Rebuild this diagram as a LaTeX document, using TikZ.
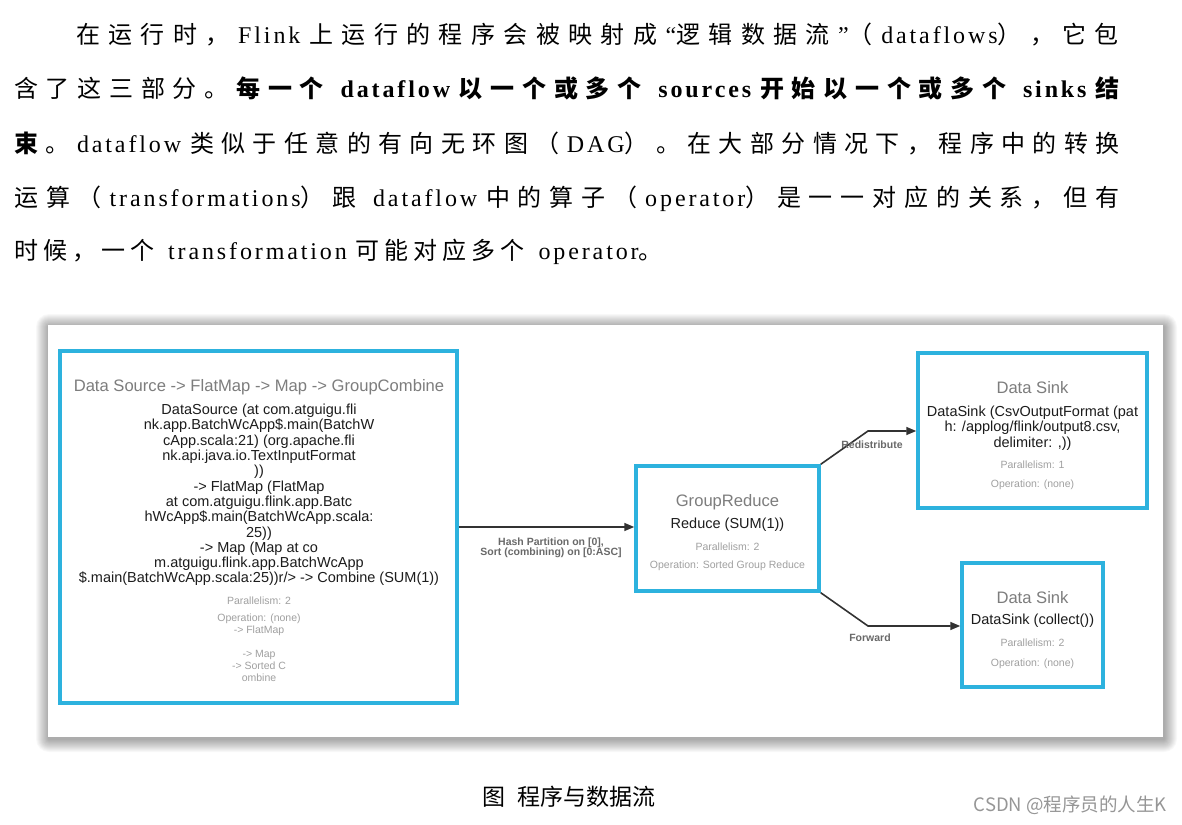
\documentclass[tikz,border=0pt]{standalone}
\usepackage{fontspec}
\setmainfont{Liberation Sans}
\newfontfamily\serifls[LetterSpace=12]{Liberation Serif}
\newfontfamily\cjk{Noto Sans CJK SC}
\newfontfamily\cjkplain{Noto Sans CJK SC}
\usetikzlibrary{arrows.meta}
\newcommand\zhglue{\hskip 5pt plus 1fil}
\ExplSyntaxOn
\NewDocumentCommand\zh{m}{\group_begin: \cjk \tl_map_inline:nn {#1}{##1\zhglue}\group_end:}
\ExplSyntaxOff
\definecolor{boxblue}{RGB}{45,178,222}
\definecolor{titlegray}{RGB}{125,125,125}
\definecolor{bodyink}{RGB}{28,28,28}
\definecolor{smallgray}{RGB}{160,160,160}
\definecolor{labelgray}{RGB}{105,105,105}
\definecolor{edgegray}{RGB}{50,50,50}
\definecolor{markgray}{RGB}{150,150,150}
\tikzset{
  para/.style={anchor=base west, inner sep=0pt, font=\serifls\fontsize{24pt}{24pt}\selectfont},
  opbox/.style={draw=boxblue, line width=3.5pt, fill=white, inner sep=0pt},
  optitle/.style={text=titlegray, inner sep=0pt, font=\fontsize{16.6pt}{18pt}\selectfont},
  opbody/.style={text=bodyink, inner sep=0pt, align=center, font=\fontsize{14.5pt}{15.3pt}\selectfont},
  opsmall/.style={text=smallgray, inner sep=0pt, align=center, font=\fontsize{10.5pt}{12pt}\selectfont},
  elabel/.style={text=labelgray, inner sep=0pt, align=center, font=\bfseries\fontsize{10.5pt}{12pt}\selectfont},
  edge/.style={draw=edgegray, line width=1.6pt, -{Triangle[length=10pt,width=8pt]}},
  shadowlayer/.style={fill=black, fill opacity=0.028},
}
\begin{document}
\begin{tikzpicture}[x=1pt,y=-1pt]
\useasboundingbox (0,0) rectangle (1182,824);
\fill[white] (0,0) rectangle (1182,824);

% paragraph
\node[para] (l1) at (76,44) {\makebox[1051pt][s]{\zh{在运行时，}Flink \zh{上运行的程序会被映射成}“\zh{逻辑数据流}”\zh{（}dataflows\zh{），它包}}};
\node[para] (l2) at (14,98) {\makebox[1113pt][s]{\zh{含了这三部分。}{\bfseries\zh{每一个} dataflow \zh{以一个或多个} sources \zh{开始以一个或多个} sinks \zh{结}}}};
\node[para] (l3) at (14,152) {\makebox[1113pt][s]{{\bfseries\zh{束}}\zh{。}dataflow \zh{类似于任意的有向无环图（}DAG\zh{）。在大部分情况下，程序中的转换}}};
\node[para] (l4) at (14,206) {\makebox[1113pt][s]{\zh{运算（}transformations\zh{）跟} dataflow \zh{中的算子（}operator\zh{）是一一对应的关系，但有}}};
\node[para] (l5) at (14,259) {\zh{时候，一个} transformation \zh{可能对应多个} operator\zh{。}};

% panel with soft shadow
\foreach \i in {1,...,13} {
  \fill[shadowlayer, rounded corners=\i pt] (48-\i+1,325-\i+2) rectangle (1163+\i+1,737+\i+2);
}
\fill[white] (48,325) rectangle (1163,737);

% boxes
\node[opbox, minimum width=397pt, minimum height=352pt] (src) at (258.5,527) {};
\node[opbox, minimum width=183pt, minimum height=125pt] (gr) at (727.5,528.5) {};
\node[opbox, minimum width=229pt, minimum height=155pt] (sk1) at (1032.5,430.5) {};
\node[opbox, minimum width=141pt, minimum height=124pt] (sk2) at (1032.5,625) {};

% source text
\node[optitle] (srct) at (259,387) {Data Source -> FlatMap -> Map -> GroupCombine};
\node[opbody] (srcb) at (259,495) {DataSource (at com.atguigu.fli\\nk.app.BatchWcApp\$.main(BatchW\\cApp.scala:21) (org.apache.fli\\nk.api.java.io.TextInputFormat\\))\\-> FlatMap (FlatMap\\at com.atguigu.flink.app.Batc\\hWcApp\$.main(BatchWcApp.scala:\\25))\\-> Map (Map at co\\m.atguigu.flink.app.BatchWcApp\\\$.main(BatchWcApp.scala:25))r/> -> Combine (SUM(1))};
\node[opsmall] (srcp) at (259,601) {Parallelism: 2};
\node[opsmall, anchor=north] (srco) at (259,614) {Operation: (none)\\-> FlatMap\\[0pt]\\-> Map\\-> Sorted C\\ombine};

% group reduce text
\node[optitle] (grt) at (727.5,502) {GroupReduce};
\node[opbody] (grb) at (727.5,525) {Reduce (SUM(1))};
\node[opsmall] (grp) at (727.5,547) {Parallelism: 2};
\node[opsmall] (gro) at (727.5,566) {Operation: Sorted Group Reduce};

% sink 1 text
\node[optitle] (s1t) at (1032.5,388) {Data Sink};
\node[opbody] (s1b) at (1032.5,428) {DataSink (CsvOutputFormat (pat\\h: /applog/flink/output8.csv,\\delimiter: ,))};
\node[opsmall] (s1p) at (1032.5,465) {Parallelism: 1};
\node[opsmall] (s1o) at (1032.5,485) {Operation: (none)};

% sink 2 text
\node[optitle] (s2t) at (1032.5,598) {Data Sink};
\node[opbody] (s2b) at (1032.5,621) {DataSink (collect())};
\node[opsmall] (s2p) at (1032.5,643) {Parallelism: 2};
\node[opsmall] (s2o) at (1032.5,664) {Operation: (none)};

% edges
\coordinate (b1) at (868,431);
\coordinate (b2) at (868,626);
\draw[edge] (src.east) -- (src.east -| gr.west);
\draw[edge] (gr.north east) -- (b1) -- (b1 -| sk1.west);
\draw[edge] (gr.south east) -- (b2) -- (b2 -| sk2.west);
\node[elabel] (e1) at (551,548) {Hash Partition on [0],\\[-2pt]Sort (combining) on [0:ASC]};
\node[elabel] (e2) at (872,445) {Redistribute};
\node[elabel] (e3) at (870,638) {Forward};

% caption and mark
\node[anchor=base west, inner sep=0pt, font=\cjkplain\fontsize{23pt}{23pt}\selectfont] (cap) at (482,805) {图\hspace{12pt}程序与数据流};
\node[anchor=base east, inner sep=0pt, text=markgray, font=\cjkplain\fontsize{18.5pt}{19pt}\selectfont] (mark) at (1167,811) {CSDN @程序员的人生K};
\end{tikzpicture}
\end{document}
